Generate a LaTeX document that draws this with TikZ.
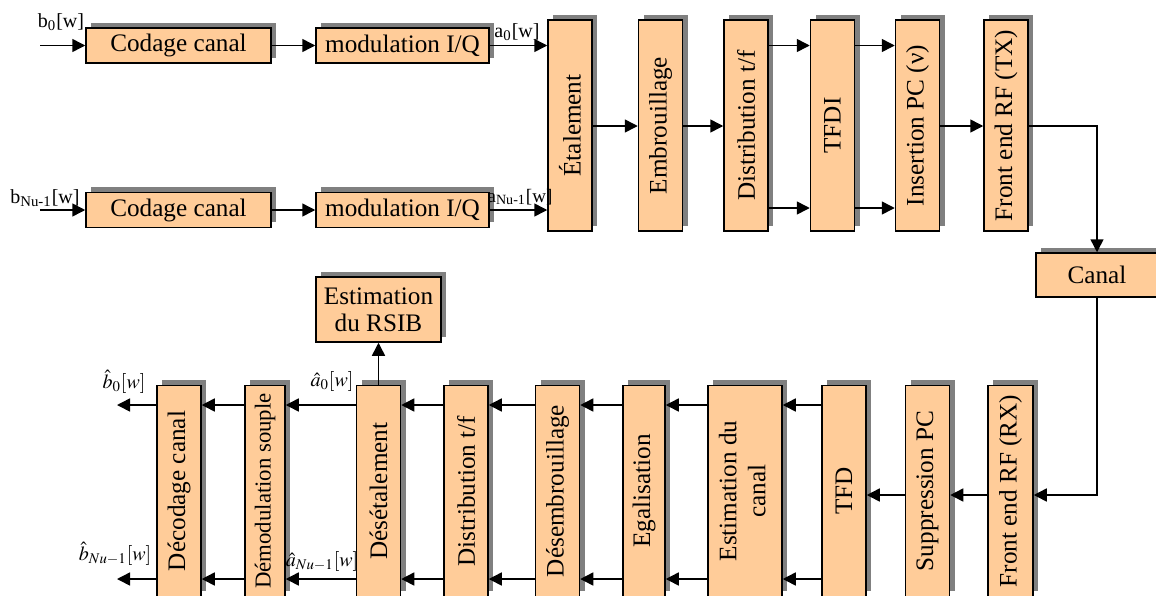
\documentclass[tikz,border=0pt]{standalone}
\usepackage{mathptmx}
\usepackage{fontspec}
\usepackage{graphicx}
\setmainfont{Liberation Serif}
\usetikzlibrary{arrows.meta,shadows}
\definecolor{peach}{HTML}{FFCC99}
\definecolor{ombre}{HTML}{808080}

\begin{document}
\begin{tikzpicture}[x=0.5pt,y=-0.5pt,
  bloc/.style={draw=black, line width=0.75pt, fill=peach, inner sep=0pt, align=center,
    drop shadow={shadow xshift=2.6pt, shadow yshift=2.6pt, fill=ombre, opacity=1},
    font=\fontsize{12.6}{14.5}\selectfont},
  hbloc/.style={bloc, minimum height=17.5pt},
  vbloc/.style={bloc, minimum width=22pt, minimum height=105.5pt},
  fleche/.style={-{Triangle[length=6.5pt,width=6.5pt]}, line width=0.75pt},
  lbl/.style={font=\fontsize{10}{12}\selectfont, inner sep=0pt}]
  \useasboundingbox (0,0) rectangle (1156,595);
  \clip (0,0) rectangle (1156,595);

  % rows used by the connectors
  \coordinate (th) at (0,45.5);
  \coordinate (tb) at (0,208);
  \coordinate (tm) at (0,126);
  \coordinate (rh) at (0,405);
  \coordinate (rb) at (0,579);
  \coordinate (rm) at (0,495);

  % emission
  \node[hbloc, minimum width=92.5pt] (cod0) at (178.5,45.5) {Codage canal};
  \node[hbloc, minimum width=92.5pt] (codN) at (178.5,210) {Codage canal};
  \node[hbloc, minimum width=86.5pt] (mod0) at (402.5,45.5) {modulation I/Q};
  \node[hbloc, minimum width=86.5pt] (modN) at (402.5,210) {modulation I/Q};
  \node[vbloc] (etal) at (570,125.5) {\rotatebox{90}{Étalement}};
  \node[vbloc] (embr) at (660.5,125.5) {\rotatebox{90}{Embrouillage}};
  \node[vbloc] (distx) at (746,125.5) {\rotatebox{90}{Distribution t/f}};
  \node[vbloc] (tfdi) at (832.5,125.5) {\rotatebox{90}{TFDI}};
  \node[vbloc] (inspc) at (917.5,125.5) {\rotatebox{90}{Insertion PC (ν)}};
  \node[vbloc] (fetx) at (1006,125.5) {\rotatebox{90}{Front end RF (TX)}};
  \node[bloc, minimum width=61pt, minimum height=22pt] (canal) at (1097,275) {Canal};

  % reception
  \node[vbloc, minimum width=22.5pt] (ferx) at (1010.5,491) {\rotatebox{90}{Front end RF (RX)}};
  \node[vbloc] (suppc) at (927.5,491) {\rotatebox{90}{Suppression PC}};
  \node[vbloc] (tfd) at (844,491) {\rotatebox{90}{TFD}};
  \node[vbloc, minimum width=37pt] (estc) at (745,491) {\rotatebox{90}{\begin{tabular}{@{}c@{}}Estimation du\\canal\end{tabular}}};
  \node[vbloc, minimum width=21pt] (egal) at (644,491) {\rotatebox{90}{Egalisation}};
  \node[vbloc] (desemb) at (557.5,491) {\rotatebox{90}{Désembrouillage}};
  \node[vbloc] (distr) at (466,491) {\rotatebox{90}{Distribution t/f}};
  \node[vbloc] (desetal) at (378.5,491) {\rotatebox{90}{Désétalement}};
  \node[vbloc, minimum width=20pt, font=\fontsize{11.4}{13}\selectfont] (demod) at (265,491) {\rotatebox{90}{Démodulation souple}};
  \node[vbloc] (decod) at (179,491) {\rotatebox{90}{Décodage canal}};
  \node[bloc, minimum width=62.5pt, minimum height=32.5pt] (rsib) at (378.5,309.5) {Estimation\\[-1pt]du RSIB};

  % signals
  \coordinate (in0) at (40,45.5);
  \coordinate (inN) at (40,210);
  \coordinate (out0) at (117,405);
  \coordinate (outN) at (117,579);
  \node[lbl] (lb0) at (61,22) {b\textsubscript{0}[w]};
  \node[lbl] (lbN) at (45,198) {b\textsubscript{Nu-1}[w]};
  \node[lbl] (la0) at (517,32) {a\textsubscript{0}[w]};
  \node[lbl, font=\fontsize{9.5}{11}\selectfont] (laN) at (520,197) {a\textsubscript{Nu-1}[w]};
  \node[lbl] (lhb0) at (124,382) {$\hat{b}_0[w]$};
  \node[lbl] (lhbN) at (115,554) {$\hat{b}_{Nu-1}[w]$};
  \node[lbl] (lha0) at (332,381) {$\hat{a}_0[w]$};
  \node[lbl] (lhaN) at (322,561) {$\hat{a}_{Nu-1}[w]$};

  % emission links
  \draw[fleche] (in0) -- (cod0);
  \draw[fleche] (inN) -- (codN);
  \draw[fleche] (cod0) -- (mod0);
  \draw[fleche] (codN) -- (modN);
  \draw[fleche] (mod0.east) -- (mod0.east -| etal.west);
  \draw[fleche] (modN.east) -- (modN.east -| etal.west);
  \draw[fleche] (etal.east |- tm) -- (embr.west |- tm);
  \draw[fleche] (embr.east |- tm) -- (distx.west |- tm);
  \draw[fleche] (distx.east |- th) -- (tfdi.west |- th);
  \draw[fleche] (distx.east |- tb) -- (tfdi.west |- tb);
  \draw[fleche] (tfdi.east |- th) -- (inspc.west |- th);
  \draw[fleche] (tfdi.east |- tb) -- (inspc.west |- tb);
  \draw[fleche] (inspc.east |- tm) -- (fetx.west |- tm);
  \draw[fleche] (fetx.east |- tm) -| (canal.north);

  % reception links
  \draw[fleche] (canal.south) |- (ferx.east |- rm);
  \draw[fleche] (ferx.west |- rm) -- (suppc.east |- rm);
  \draw[fleche] (suppc.west |- rm) -- (tfd.east |- rm);
  \foreach \a/\b in {tfd/estc, estc/egal, egal/desemb, desemb/distr, distr/desetal, desetal/demod, demod/decod}{
    \draw[fleche] (\a.west |- rh) -- (\b.east |- rh);
    \draw[fleche] (\a.west |- rb) -- (\b.east |- rb);
  }
  \draw[fleche] (decod.west |- rh) -- (out0);
  \draw[fleche] (decod.west |- rb) -- (outN);
  \draw[fleche] (desetal.north) -- (rsib.south);
\end{tikzpicture}
\end{document}
